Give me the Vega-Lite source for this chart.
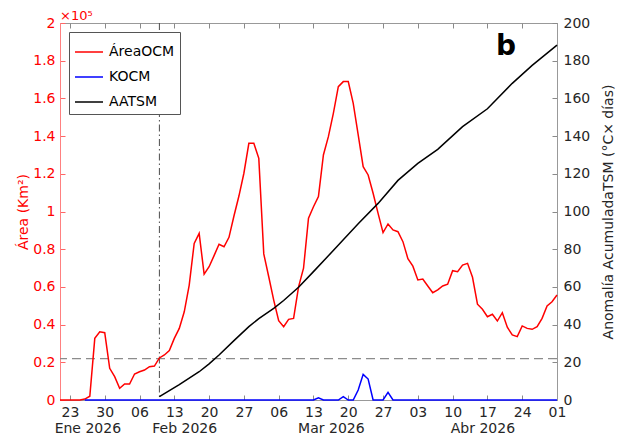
{
  "$schema": "https://vega.github.io/schema/vega-lite/v6.json",
  "width": 497,
  "height": 377,
  "autosize": {"type": "none"},
  "padding": {"left": 60, "top": 23, "right": 61, "bottom": 38},
  "background": "white",
  "config": {
    "font": "DejaVu Sans",
    "view": {"stroke": "#999999", "strokeWidth": 1},
    "axis": {"grid": false, "labelFontSize": 14, "titleFontSize": 14, "titleFontWeight": "normal", "labelColor": "#262626", "tickColor": "#8a8a8a", "domainColor": "#999999"}
  },
  "data": {"values": [{}]},
  "datasets": {
    "area": [
      {"date": "2026-01-21", "v": 0}, {"date": "2026-01-22", "v": 0}, {"date": "2026-01-23", "v": 0}, {"date": "2026-01-24", "v": 0},
      {"date": "2026-01-25", "v": 0}, {"date": "2026-01-26", "v": 500}, {"date": "2026-01-27", "v": 2000}, {"date": "2026-01-28", "v": 32700},
      {"date": "2026-01-29", "v": 36200}, {"date": "2026-01-30", "v": 35700}, {"date": "2026-01-31", "v": 16800}, {"date": "2026-02-01", "v": 12400},
      {"date": "2026-02-02", "v": 6200}, {"date": "2026-02-03", "v": 8500}, {"date": "2026-02-04", "v": 8500}, {"date": "2026-02-05", "v": 13800},
      {"date": "2026-02-06", "v": 15000}, {"date": "2026-02-07", "v": 15900}, {"date": "2026-02-08", "v": 17700}, {"date": "2026-02-09", "v": 18000},
      {"date": "2026-02-10", "v": 22300}, {"date": "2026-02-11", "v": 23900}, {"date": "2026-02-12", "v": 26200}, {"date": "2026-02-13", "v": 32700},
      {"date": "2026-02-14", "v": 38000}, {"date": "2026-02-15", "v": 46800}, {"date": "2026-02-16", "v": 61000}, {"date": "2026-02-17", "v": 83100},
      {"date": "2026-02-18", "v": 88400}, {"date": "2026-02-19", "v": 66800}, {"date": "2026-02-20", "v": 70700}, {"date": "2026-02-21", "v": 76600},
      {"date": "2026-02-22", "v": 82600}, {"date": "2026-02-23", "v": 81300}, {"date": "2026-02-24", "v": 86300}, {"date": "2026-02-25", "v": 97600},
      {"date": "2026-02-26", "v": 108200}, {"date": "2026-02-27", "v": 120300}, {"date": "2026-02-28", "v": 136200}, {"date": "2026-03-01", "v": 136200},
      {"date": "2026-03-02", "v": 128200}, {"date": "2026-03-03", "v": 77500}, {"date": "2026-03-04", "v": 65400}, {"date": "2026-03-05", "v": 53000},
      {"date": "2026-03-06", "v": 42100}, {"date": "2026-03-07", "v": 38900}, {"date": "2026-03-08", "v": 42800}, {"date": "2026-03-09", "v": 43300},
      {"date": "2026-03-10", "v": 60000}, {"date": "2026-03-11", "v": 69900}, {"date": "2026-03-12", "v": 96400}, {"date": "2026-03-13", "v": 102500},
      {"date": "2026-03-14", "v": 107900}, {"date": "2026-03-15", "v": 130000}, {"date": "2026-03-16", "v": 139700}, {"date": "2026-03-17", "v": 152100},
      {"date": "2026-03-18", "v": 166200}, {"date": "2026-03-19", "v": 168900}, {"date": "2026-03-20", "v": 168900}, {"date": "2026-03-21", "v": 157400},
      {"date": "2026-03-22", "v": 140600}, {"date": "2026-03-23", "v": 123800}, {"date": "2026-03-24", "v": 119400}, {"date": "2026-03-25", "v": 109700},
      {"date": "2026-03-26", "v": 99000}, {"date": "2026-03-27", "v": 88800}, {"date": "2026-03-28", "v": 93400}, {"date": "2026-03-29", "v": 90200},
      {"date": "2026-03-30", "v": 89300}, {"date": "2026-03-31", "v": 84000}, {"date": "2026-04-01", "v": 75000}, {"date": "2026-04-02", "v": 71000},
      {"date": "2026-04-03", "v": 63700}, {"date": "2026-04-04", "v": 64200}, {"date": "2026-04-05", "v": 60500}, {"date": "2026-04-06", "v": 56900},
      {"date": "2026-04-07", "v": 58400}, {"date": "2026-04-08", "v": 60500}, {"date": "2026-04-09", "v": 61400}, {"date": "2026-04-10", "v": 68600},
      {"date": "2026-04-11", "v": 68100}, {"date": "2026-04-12", "v": 71600}, {"date": "2026-04-13", "v": 72500}, {"date": "2026-04-14", "v": 65100},
      {"date": "2026-04-15", "v": 50800}, {"date": "2026-04-16", "v": 48100}, {"date": "2026-04-17", "v": 44200}, {"date": "2026-04-18", "v": 45500},
      {"date": "2026-04-19", "v": 41900}, {"date": "2026-04-20", "v": 46300}, {"date": "2026-04-21", "v": 38600}, {"date": "2026-04-22", "v": 34500},
      {"date": "2026-04-23", "v": 33600}, {"date": "2026-04-24", "v": 39300}, {"date": "2026-04-25", "v": 38000}, {"date": "2026-04-26", "v": 37500},
      {"date": "2026-04-27", "v": 38900}, {"date": "2026-04-28", "v": 43300}, {"date": "2026-04-29", "v": 49900}, {"date": "2026-04-30", "v": 52100},
      {"date": "2026-05-01", "v": 55700}
    ],
    "k": [
      {"date": "2026-01-26", "v": 0}, {"date": "2026-03-13", "v": 0}, {"date": "2026-03-14", "v": 1200}, {"date": "2026-03-15", "v": 0},
      {"date": "2026-03-18", "v": 0}, {"date": "2026-03-19", "v": 1800}, {"date": "2026-03-20", "v": 0}, {"date": "2026-03-21", "v": 0},
      {"date": "2026-03-22", "v": 5300}, {"date": "2026-03-23", "v": 13600}, {"date": "2026-03-24", "v": 11100}, {"date": "2026-03-25", "v": 0},
      {"date": "2026-03-27", "v": 0}, {"date": "2026-03-28", "v": 4100}, {"date": "2026-03-29", "v": 0}, {"date": "2026-05-01", "v": 0}
    ],
    "aa": [
      {"date": "2026-02-10", "v": 1.8}, {"date": "2026-02-14", "v": 8.2}, {"date": "2026-02-18", "v": 15.0}, {"date": "2026-02-20", "v": 19.2},
      {"date": "2026-02-22", "v": 23.9}, {"date": "2026-02-25", "v": 31.5}, {"date": "2026-02-28", "v": 38.9}, {"date": "2026-03-02", "v": 43.2},
      {"date": "2026-03-05", "v": 48.6}, {"date": "2026-03-07", "v": 52.8}, {"date": "2026-03-10", "v": 59.8}, {"date": "2026-03-13", "v": 68.1},
      {"date": "2026-03-16", "v": 76.5}, {"date": "2026-03-19", "v": 85.0}, {"date": "2026-03-22", "v": 93.5}, {"date": "2026-03-26", "v": 104.3},
      {"date": "2026-03-30", "v": 116.5}, {"date": "2026-04-03", "v": 125.5}, {"date": "2026-04-07", "v": 133.0}, {"date": "2026-04-12", "v": 145.0},
      {"date": "2026-04-17", "v": 154.5}, {"date": "2026-04-22", "v": 168.0}, {"date": "2026-04-26", "v": 177.5}, {"date": "2026-05-01", "v": 188.3}
    ]
  },
  "layer": [
    {
      "mark": {"type": "rule", "color": "#8c8c8c", "strokeDash": [9, 5], "strokeWidth": 1.2},
      "encoding": {
        "y": {"datum": 22000, "type": "quantitative", "scale": {"domain": [0, 200000], "nice": false}, "axis": null}
      }
    },
    {
      "mark": {"type": "rule", "color": "#4d4d4d", "strokeDash": [7, 3, 1.5, 3], "strokeWidth": 1},
      "encoding": {
        "x": {"datum": {"year": 2026, "month": 2, "date": 10, "utc": true}, "type": "temporal", "axis": null}
      }
    },
    {
      "data": {"name": "area"},
      "mark": {"type": "line", "strokeWidth": 1.5},
      "encoding": {
        "x": {
          "field": "date", "type": "temporal",
          "scale": {"type": "utc", "nice": false, "domain": [{"year": 2026, "month": 1, "date": 21, "utc": true}, {"year": 2026, "month": 5, "date": 1, "utc": true}]},
          "axis": {
            "orient": "bottom", "title": null, "format": "%d", "tickSize": -5, "labelPadding": 10, "labelFlush": false, "labelOverlap": false,
            "values": [
              {"year": 2026, "month": 1, "date": 23, "utc": true}, {"year": 2026, "month": 1, "date": 30, "utc": true},
              {"year": 2026, "month": 2, "date": 6, "utc": true}, {"year": 2026, "month": 2, "date": 13, "utc": true},
              {"year": 2026, "month": 2, "date": 20, "utc": true}, {"year": 2026, "month": 2, "date": 27, "utc": true},
              {"year": 2026, "month": 3, "date": 6, "utc": true}, {"year": 2026, "month": 3, "date": 13, "utc": true},
              {"year": 2026, "month": 3, "date": 20, "utc": true}, {"year": 2026, "month": 3, "date": 27, "utc": true},
              {"year": 2026, "month": 4, "date": 3, "utc": true}, {"year": 2026, "month": 4, "date": 10, "utc": true},
              {"year": 2026, "month": 4, "date": 17, "utc": true}, {"year": 2026, "month": 4, "date": 24, "utc": true},
              {"year": 2026, "month": 5, "date": 1, "utc": true}
            ]
          }
        },
        "y": {
          "field": "v", "type": "quantitative",
          "scale": {"domain": [0, 200000], "nice": false},
          "axis": {
            "orient": "left", "title": "Área (Km²)", "titlePadding": 2, "titleColor": "#ff0000",
            "values": [0, 20000, 40000, 60000, 80000, 100000, 120000, 140000, 160000, 180000, 200000],
            "labelExpr": "format(datum.value/100000, '.1~f')",
            "tickSize": -5, "labelPadding": 10, "labelColor": "#ff0000", "domainColor": "#ff8080", "tickColor": "#ff6666"
          }
        },
        "color": {
          "datum": "ÁreaOCM",
          "scale": {"domain": ["ÁreaOCM", "KOCM", "AATSM"], "range": ["#ff0000", "#0000ff", "#000000"]},
          "legend": {
            "title": null, "orient": "top-left", "offset": 9, "symbolType": "stroke", "symbolSize": 784, "symbolStrokeWidth": 1.5,
            "labelFontSize": 14, "labelColor": "#000000", "fillColor": "white", "strokeColor": "#555555", "padding": 5, "rowPadding": 3, "labelOffset": 5
          }
        }
      }
    },
    {
      "data": {"name": "k"},
      "mark": {"type": "line", "strokeWidth": 1.5},
      "encoding": {
        "x": {
          "field": "date", "type": "temporal",
          "axis": {
            "orient": "top", "title": null, "labels": false, "domain": false, "tickSize": -5,
            "values": [
              {"year": 2026, "month": 1, "date": 23, "utc": true}, {"year": 2026, "month": 1, "date": 30, "utc": true},
              {"year": 2026, "month": 2, "date": 6, "utc": true}, {"year": 2026, "month": 2, "date": 13, "utc": true},
              {"year": 2026, "month": 2, "date": 20, "utc": true}, {"year": 2026, "month": 2, "date": 27, "utc": true},
              {"year": 2026, "month": 3, "date": 6, "utc": true}, {"year": 2026, "month": 3, "date": 13, "utc": true},
              {"year": 2026, "month": 3, "date": 20, "utc": true}, {"year": 2026, "month": 3, "date": 27, "utc": true},
              {"year": 2026, "month": 4, "date": 3, "utc": true}, {"year": 2026, "month": 4, "date": 10, "utc": true},
              {"year": 2026, "month": 4, "date": 17, "utc": true}, {"year": 2026, "month": 4, "date": 24, "utc": true},
              {"year": 2026, "month": 5, "date": 1, "utc": true}
            ]
          }
        },
        "y": {"field": "v", "type": "quantitative", "scale": {"domain": [0, 200000], "nice": false}, "axis": null},
        "color": {"datum": "KOCM"}
      }
    },
    {
      "data": {"name": "aa"},
      "mark": {"type": "line", "strokeWidth": 1.5},
      "encoding": {
        "x": {
          "field": "date", "type": "temporal",
          "axis": {
            "orient": "bottom", "title": null, "ticks": false, "tickSize": 0, "domain": false, "labelPadding": 21,
            "labelFlush": false, "labelOverlap": false,
            "labelExpr": "['Ene','Feb','Mar','Abr','May'][utcmonth(datum.value)] + ' 2026'",
            "values": [
              {"year": 2026, "month": 1, "date": 26, "hours": 12, "utc": true},
              {"year": 2026, "month": 2, "date": 15, "utc": true},
              {"year": 2026, "month": 3, "date": 16, "hours": 12, "utc": true},
              {"year": 2026, "month": 4, "date": 16, "utc": true}
            ]
          }
        },
        "y": {
          "field": "v", "type": "quantitative",
          "scale": {"domain": [0, 200], "nice": false},
          "axis": {
            "orient": "right", "title": "Anomalía AcumuladaTSM (°C× días)", "titleAngle": -90, "titleBaseline": "top", "titlePadding": 12,
            "titleColor": "#262626", "values": [0, 20, 40, 60, 80, 100, 120, 140, 160, 180, 200],
            "tickSize": -5, "labelPadding": 11
          }
        },
        "color": {"datum": "AATSM"}
      }
    },
    {
      "mark": {"type": "text", "text": "×10⁵", "align": "left", "baseline": "alphabetic", "dy": -3, "color": "#ff0000", "fontSize": 13},
      "encoding": {
        "x": {"datum": {"year": 2026, "month": 1, "date": 21, "utc": true}, "type": "temporal", "axis": null},
        "y": {"datum": 200000, "type": "quantitative", "scale": {"domain": [0, 200000], "nice": false}, "axis": null}
      }
    },
    {
      "mark": {"type": "text", "text": "b", "align": "center", "baseline": "alphabetic", "color": "#000000", "fontSize": 28, "fontWeight": "bold"},
      "encoding": {
        "x": {"datum": {"year": 2026, "month": 4, "date": 20, "hours": 18, "utc": true}, "type": "temporal", "axis": null},
        "y": {"datum": 183000, "type": "quantitative", "scale": {"domain": [0, 200000], "nice": false}, "axis": null}
      }
    }
  ],
  "resolve": {"scale": {"y": "independent"}, "axis": {"x": "independent", "y": "independent"}}
}
